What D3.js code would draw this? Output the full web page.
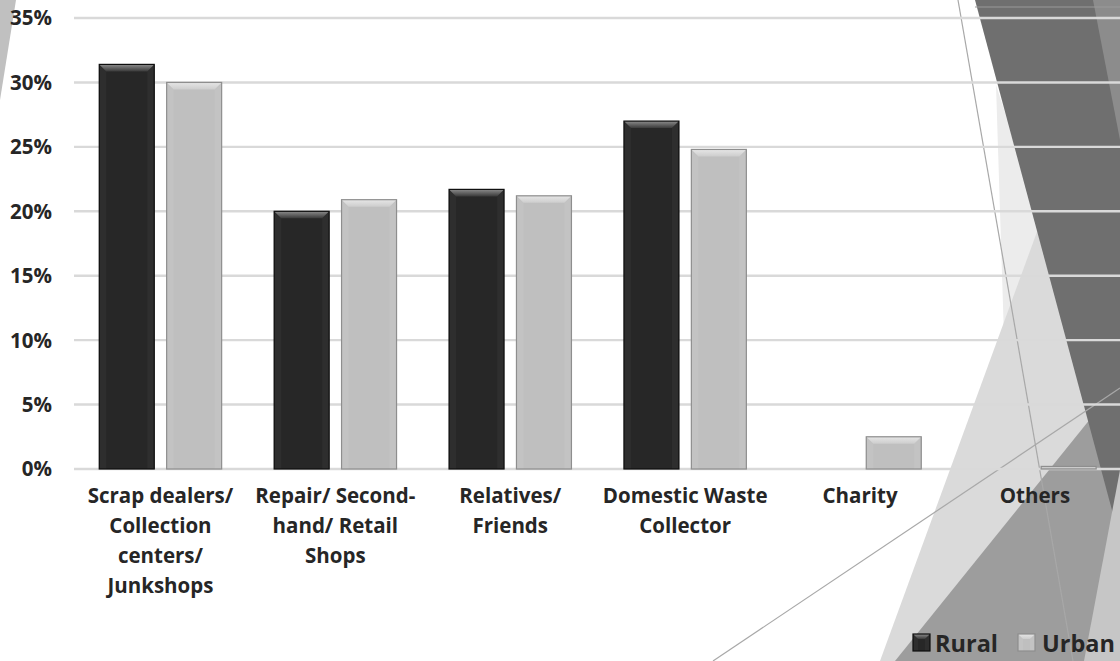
<!DOCTYPE html>
<html>
<head>
<meta charset="utf-8">
<script src="https://cdn.jsdelivr.net/npm/d3@7/dist/d3.min.js"></script>
<style>
  html, body { margin: 0; padding: 0; background: #ffffff; }
  svg { display: block; }
  text { font-family: "Open Sans", "DejaVu Sans", sans-serif; font-weight: 700; fill: #262626; }
</style>
</head>
<body>
<svg id="chart" width="1120" height="661"></svg>
<script>
// Where collected items go, share of households by area
const categories = [
  "Scrap dealers/ Collection centers/ Junkshops",
  "Repair/ Second-hand/ Retail Shops",
  "Relatives/ Friends",
  "Domestic Waste Collector",
  "Charity",
  "Others"
];
const categoryLines = [
  ["Scrap dealers/", "Collection", "centers/", "Junkshops"],
  ["Repair/ Second-", "hand/ Retail", "Shops"],
  ["Relatives/", "Friends"],
  ["Domestic Waste", "Collector"],
  ["Charity"],
  ["Others"]
];
const seriesNames = ["Rural", "Urban"];
const rural = [31.4, 20.0, 21.7, 27.0, 0, 0];
const urban = [30.0, 20.9, 21.2, 24.8, 2.5, 0.2];
const yTicks = [0, 5, 10, 15, 20, 25, 30, 35];

const W = 1120, H = 661;
const svg = d3.select("#chart");
const defs = svg.append("defs");

// ---- slide decoration behind the chart ----
const deco = svg.append("g");
const shapes = [
  { pts: [[0,0],[16,0],[0,100]], fill: "#c0c0c0" },
  { pts: [[996,85],[1042,225],[1006,400]], fill: "#ececec" },
  { pts: [[1045,210],[880,661],[1120,661],[1120,300]], fill: "#dadada" },
  { pts: [[895,661],[1120,382],[1120,661]], fill: "#9d9d9d" },
  { pts: [[975,0],[1120,0],[1120,540]], fill: "#6f6f6f" },
  { pts: [[1093,0],[1120,0],[1120,140]], fill: "#8c8c8c" },
  { pts: [[1120,470],[1084,661],[1120,661]], fill: "#c6c6c6" }
];
deco.selectAll("polygon").data(shapes).join("polygon")
  .attr("points", d => d.pts.map(p => p.join(",")).join(" "))
  .attr("fill", d => d.fill);
const thinLines = [
  [[958,0],[1073,661]],
  [[713,661],[1120,388]],
  [[975,7],[1120,7]]
];
deco.selectAll("line").data(thinLines).join("line")
  .attr("x1", d => d[0][0]).attr("y1", d => d[0][1])
  .attr("x2", d => d[1][0]).attr("y2", d => d[1][1])
  .attr("stroke", (d, i) => i < 2 ? "#a8a8a8" : "#9a9a9a")
  .attr("stroke-width", 1.2);

// ---- scales ----
const y = d3.scaleLinear().domain([0, 35]).range([469, 18]);
const x0 = d3.scaleBand().domain(categories).range([73, 1122.4]).padding(0);
const x1 = d3.scaleBand().domain(seriesNames)
  .range([26.25, x0.bandwidth() - 26.25]).paddingInner(0.184);

// ---- gridlines ----
svg.append("g").selectAll("line").data(yTicks).join("line")
  .attr("x1", 74).attr("x2", W)
  .attr("y1", d => y(d)).attr("y2", d => y(d))
  .attr("stroke", "#d9d9d9").attr("stroke-width", 2.4);

// ---- y axis labels ----
svg.append("g").selectAll("text").data(yTicks).join("text")
  .attr("x", 52).attr("y", d => y(d))
  .attr("dy", "0.36em")
  .attr("text-anchor", "end")
  .attr("font-size", 20.5)
  .text(d => d + "%");

// ---- bevel gradients ----
const styles = {
  Rural: { fill: "#272727", stroke: "#0e0e0e", top: ["#8c8c8c", "#3a3a3a"], side: "#2e2e2e" },
  Urban: { fill: "#bfbfbf", stroke: "#8e8e8e", top: ["#e6e6e6", "#cdcdcd"], side: "#c3c3c3" }
};
seriesNames.forEach(s => {
  const g = defs.append("linearGradient").attr("id", "top-" + s)
    .attr("x1", 0).attr("y1", 0).attr("x2", 0).attr("y2", 1);
  g.append("stop").attr("offset", "0%").attr("stop-color", styles[s].top[0]);
  g.append("stop").attr("offset", "100%").attr("stop-color", styles[s].top[1]);
});

function bevelBox(g, bx, by, bw, bh, s, bev) {
  const st = styles[s];
  const b = Math.min(bev, bh / 2, bw / 2);
  g.append("rect").attr("x", bx).attr("y", by).attr("width", bw).attr("height", bh)
    .attr("fill", st.fill);
  if (bh > 0.5) {
    // faint side facets
    g.append("polygon").attr("points",
      [[bx, by], [bx + b, by + b], [bx + b, by + bh], [bx, by + bh]].map(p => p.join(",")).join(" "))
      .attr("fill", st.side);
    g.append("polygon").attr("points",
      [[bx + bw, by], [bx + bw - b, by + b], [bx + bw - b, by + bh], [bx + bw, by + bh]].map(p => p.join(",")).join(" "))
      .attr("fill", st.side);
    // top facet
    g.append("polygon").attr("points",
      [[bx, by], [bx + bw, by], [bx + bw - b, by + b], [bx + b, by + b]].map(p => p.join(",")).join(" "))
      .attr("fill", "url(#top-" + s + ")");
  }
  g.append("rect").attr("x", bx).attr("y", by).attr("width", bw).attr("height", bh)
    .attr("fill", "none").attr("stroke", st.stroke).attr("stroke-width", 1.2);
}

// ---- bars ----
const rows = categories.map((c, i) => ({ cat: c, Rural: rural[i], Urban: urban[i] }));
const groups = svg.append("g").selectAll("g").data(rows).join("g")
  .attr("transform", d => `translate(${x0(d.cat)},0)`);
groups.each(function(d) {
  const g = d3.select(this);
  seriesNames.forEach(s => {
    if (d[s] <= 0) return;
    const top = y(d[s]);
    bevelBox(g, x1(s), top, x1.bandwidth(), y(0) - top, s, 7);
  });
});

// ---- category labels ----
const labels = svg.append("g").selectAll("text").data(categories).join("text")
  .attr("text-anchor", "middle")
  .attr("font-size", 20.5)
  .attr("x", d => x0(d) + x0.bandwidth() / 2)
  .attr("y", 503);
labels.each(function(d, i) {
  d3.select(this).selectAll("tspan").data(categoryLines[i]).join("tspan")
    .attr("x", x0(d) + x0.bandwidth() / 2)
    .attr("dy", (t, j) => j === 0 ? 0 : 30)
    .text(t => t);
});

// ---- legend ----
const legendPos = [{ s: "Rural", sx: 913, tx: 935 }, { s: "Urban", sx: 1018, tx: 1042 }];
const legend = svg.append("g");
legendPos.forEach(p => {
  const g = legend.append("g");
  bevelBox(g, p.sx, 634, 17, 17, p.s, 5);
  g.append("text").attr("x", p.tx).attr("y", 652)
    .attr("font-size", 23.5).text(p.s);
});
</script>
</body>
</html>
